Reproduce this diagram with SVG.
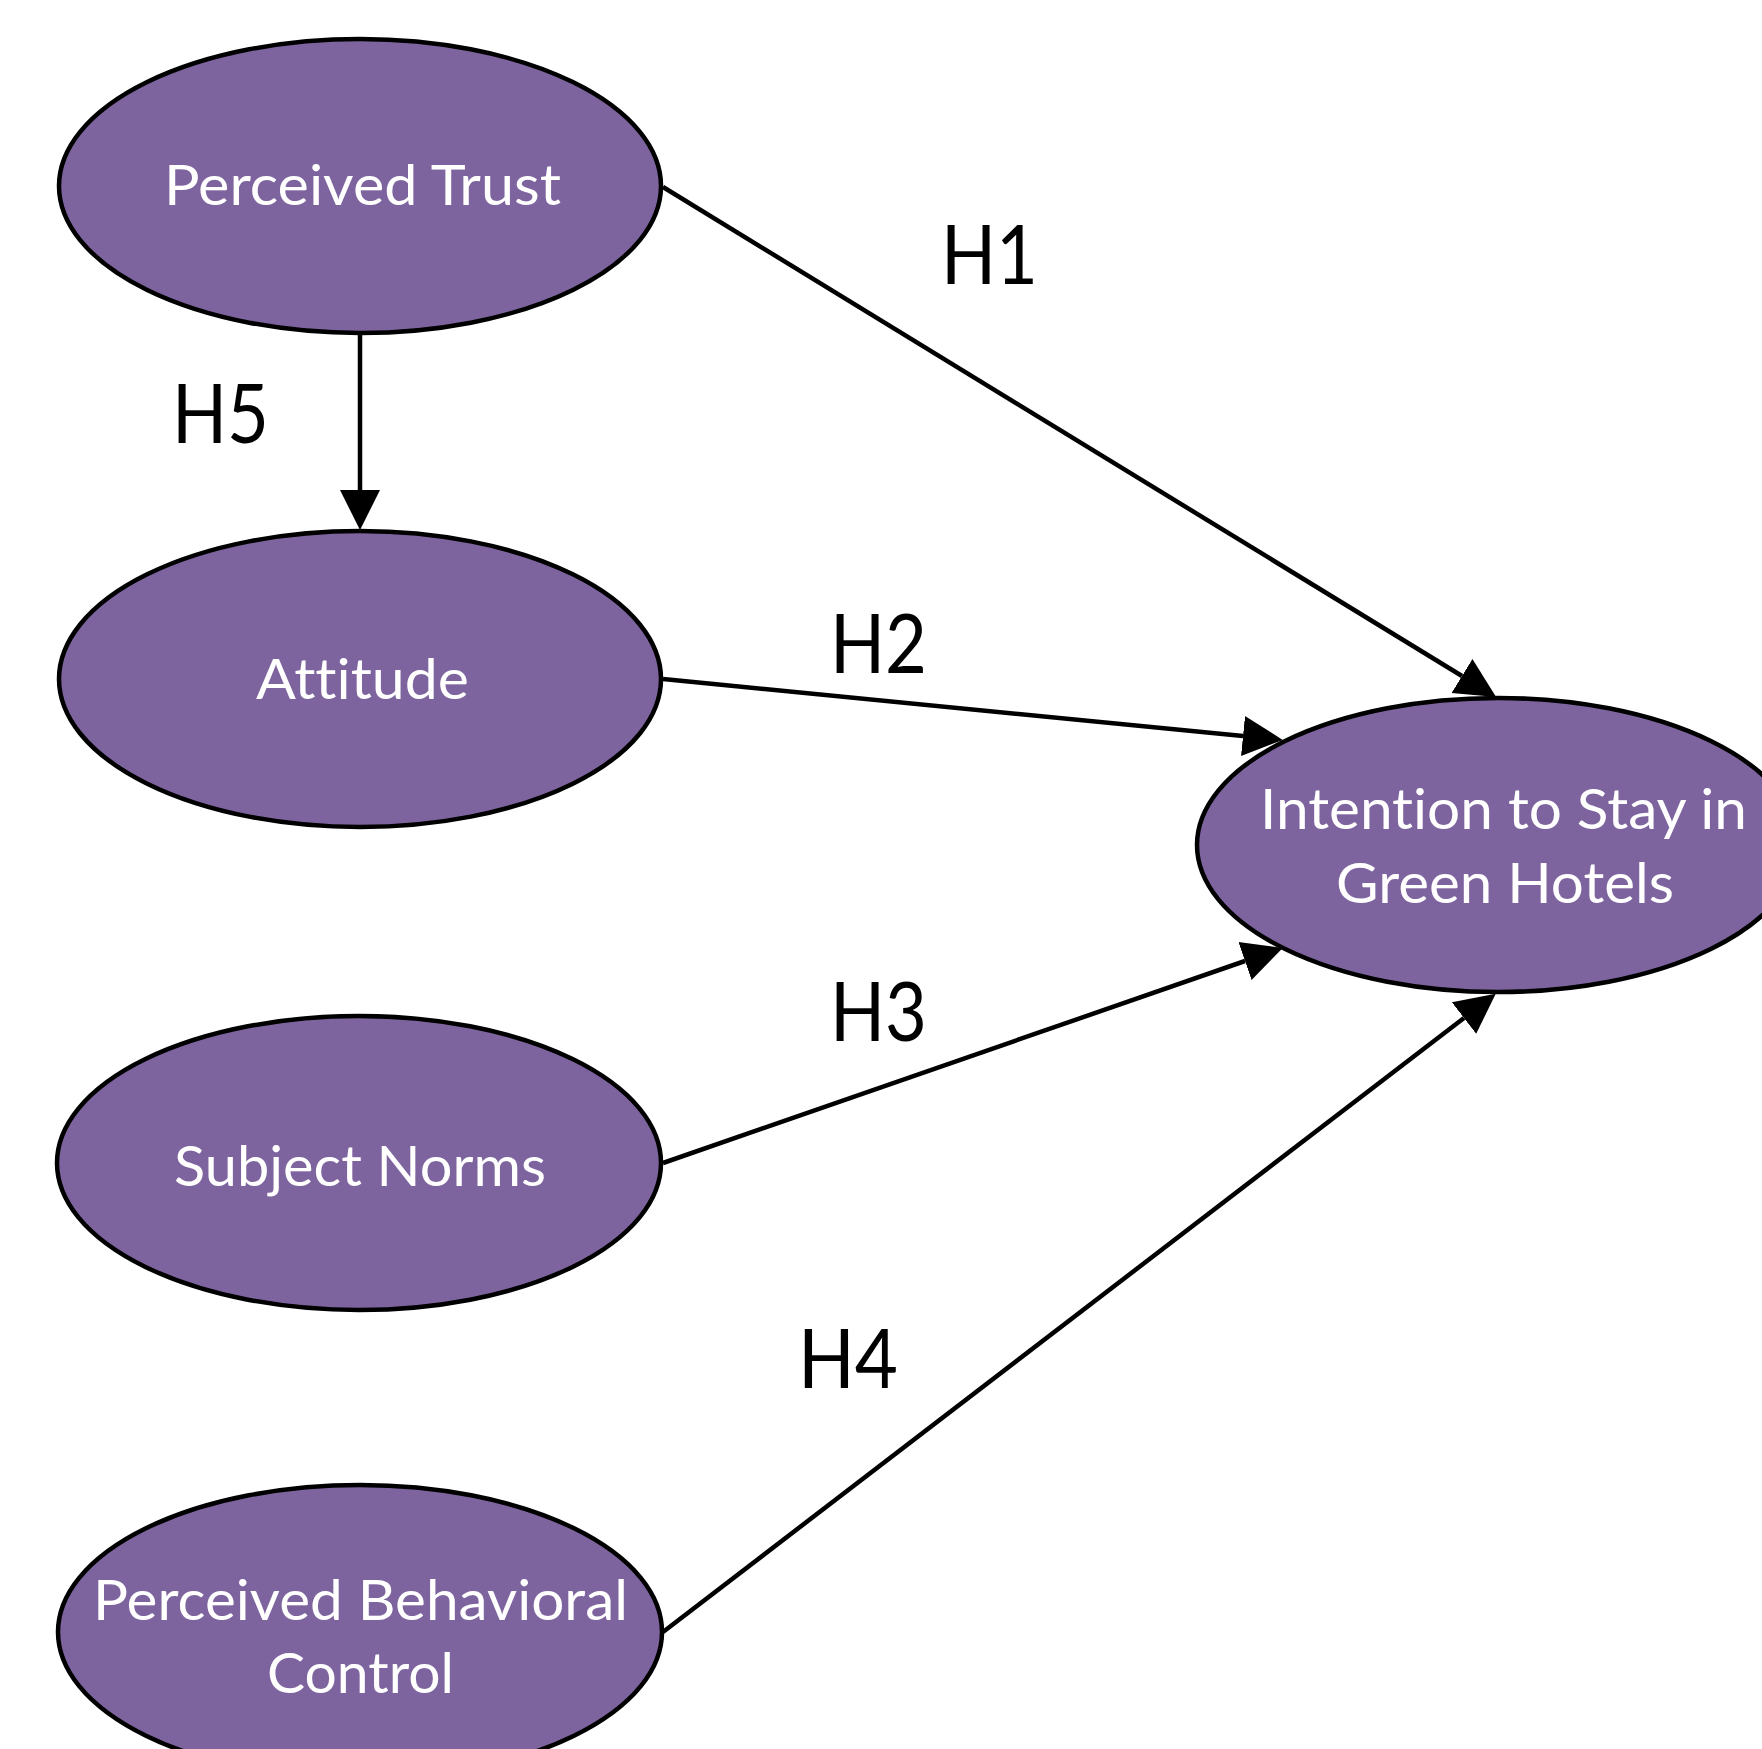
<svg xmlns="http://www.w3.org/2000/svg" width="1762" height="1749" viewBox="0 0 1762 1749">
  <style>
    .node { fill: #7E649E; stroke: #000000; stroke-width: 4.5; }
    .ntext { fill: #FFFFFF; font-family: Lato, "Open Sans", "Liberation Sans", sans-serif; font-size: 56px; font-variant-ligatures: none; font-feature-settings: "liga" 0, "clig" 0; }
    .edge { fill: none; stroke: #000000; stroke-width: 4.5; marker-end: url(#arrow); }
    .label { fill: #000000; font-family: Lato, "Open Sans", "Liberation Sans", sans-serif; font-size: 81px; font-variant-ligatures: none; }
  </style>
  <defs>
    <marker id="arrow" markerUnits="userSpaceOnUse" viewBox="0 -22 42 44" markerWidth="42" markerHeight="44" refX="0" refY="0" orient="auto">
      <path d="M0,-20 L40,0 L0,20 Z" fill="#000000"/>
    </marker>
  </defs>
  <rect width="1762" height="1749" fill="#FFFFFF"/>

  <g id="connectors">
    <path id="e-h1" class="edge" d="M663,187 L1462,676"/>
    <path id="e-h2" class="edge" d="M663,679 L1243,736"/>
    <path id="e-h3" class="edge" d="M663,1163 L1245,961"/>
    <path id="e-h4" class="edge" d="M663,1632 L1464,1018"/>
    <path id="e-h5" class="edge" d="M360,333 L360,490"/>
    <text class="label" x="941" y="284" textLength="97" lengthAdjust="spacingAndGlyphs">H1</text>
    <text class="label" x="830" y="673" textLength="97" lengthAdjust="spacingAndGlyphs">H2</text>
    <text class="label" x="830" y="1041" textLength="97" lengthAdjust="spacingAndGlyphs">H3</text>
    <text class="label" x="798" y="1388" textLength="100" lengthAdjust="spacingAndGlyphs">H4</text>
    <text class="label" x="172" y="443" textLength="97" lengthAdjust="spacingAndGlyphs">H5</text>
  </g>

  <g id="node-perceived-trust">
    <ellipse class="node" cx="360" cy="186" rx="301" ry="147"/>
    <text class="ntext" x="164" y="205" textLength="397" lengthAdjust="spacingAndGlyphs">Perceived Trust</text>
  </g>
  <g id="node-attitude">
    <ellipse class="node" cx="360" cy="679" rx="301" ry="148"/>
    <text class="ntext" x="256" y="699" textLength="213" lengthAdjust="spacingAndGlyphs">Attitude</text>
  </g>
  <g id="node-subject-norms">
    <ellipse class="node" cx="359" cy="1163" rx="302" ry="147"/>
    <text class="ntext" x="174" y="1186" textLength="372" lengthAdjust="spacingAndGlyphs">Subject Norms</text>
  </g>
  <g id="node-pbc">
    <ellipse class="node" cx="360" cy="1632" rx="302" ry="147"/>
    <text class="ntext" x="93" y="1620" textLength="535" lengthAdjust="spacingAndGlyphs">Perceived Behavioral</text>
    <text class="ntext" x="267" y="1693" textLength="187" lengthAdjust="spacingAndGlyphs">Control</text>
  </g>
  <g id="node-intention">
    <ellipse class="node" cx="1498" cy="845" rx="301" ry="147"/>
    <text class="ntext" x="1260" y="829" textLength="487" lengthAdjust="spacingAndGlyphs">Intention to Stay in</text>
    <text class="ntext" x="1336" y="903" textLength="338" lengthAdjust="spacingAndGlyphs">Green Hotels</text>
  </g>
</svg>
